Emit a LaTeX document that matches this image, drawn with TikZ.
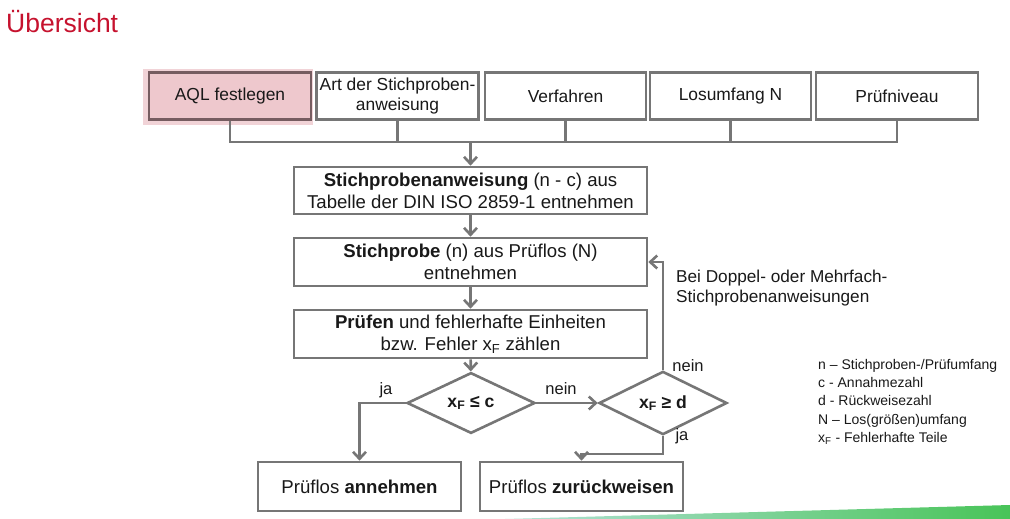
\documentclass[tikz,border=0pt]{standalone}
\usepackage{fontspec}
\setmainfont{Liberation Sans}
\usetikzlibrary{arrows.meta,shapes.geometric}

\begin{document}
\begin{tikzpicture}[x=1pt,y=-1pt,>={Straight Barb[length=7pt,width=13pt]},
  box/.style={draw=linegray,line width=2.6pt,fill=white,text=textdark,align=center,
    minimum height=47,inner sep=2pt,font=\fontsize{17.4}{20}\selectfont},
  bigbox/.style={box,minimum height=48,font=\fontsize{18.6}{22}\selectfont},
  decision/.style={draw=linegray,line width=2.6pt,diamond,inner sep=0pt,fill=white,
    minimum width=128,minimum height=48,text=textdark,font=\fontsize{17.6}{20}\selectfont\bfseries},
  link/.style={draw=linegray,line width=2.6pt},
  lbl/.style={text=textdark,font=\fontsize{16.5}{20}\selectfont,inner sep=0pt}]
\definecolor{linegray}{RGB}{118,118,118}
\definecolor{textdark}{RGB}{25,25,25}
\definecolor{titlered}{RGB}{198,18,46}
\definecolor{aqlfill}{RGB}{238,200,205}
\definecolor{aqlline}{RGB}{118,92,96}
\definecolor{stripteal}{RGB}{38,168,140}
\definecolor{stripgreen}{RGB}{72,196,88}

\useasboundingbox (0,0) rectangle (1010,519);

% title
\node[anchor=base west,inner sep=0pt,text=titlered,font=\fontsize{26.5}{30}\selectfont]
  (title) at (6,33) {Übersicht};

% input row
\fill[aqlfill!80!white] (143,69) rectangle (313,125);
\node[box,fill=aqlfill,draw=aqlline,minimum width=162] (aql) at (230,96) {AQL festlegen};
\node[box,minimum width=162] (art) at (397.5,96) {Art der Stichproben-\\anweisung};
\node[box,minimum width=161] (verf) at (565.5,96) {Verfahren};
\node[box,minimum width=161] (losum) at (730.5,96) {Losumfang N};
\node[box,minimum width=162] (niveau) at (897,96) {Prüfniveau};
\coordinate (bus) at (470.5,142);

% main column
\node[bigbox,minimum width=353,minimum height=47] (plan) at (470.5,190.5)
  {\textbf{Stichprobenanweisung} (n - c) aus\\Tabelle der DIN ISO 2859-1 entnehmen};
\node[bigbox,minimum width=353] (sample) at (470.5,262)
  {\textbf{Stichprobe} (n) aus Prüflos (N)\\entnehmen};
\node[bigbox,minimum width=353] (test) at (470.5,334)
  {\textbf{Prüfen} und fehlerhafte Einheiten\\bzw. Fehler x\textsubscript{F} zählen};
\node[decision] (dc) at (471,403) {\raisebox{-2pt}{x\textsubscript{F} ≤ c}};
\node[decision] (dd) at (663,403) {\raisebox{-2pt}{x\textsubscript{F} ≥ d}};
\node[bigbox,minimum width=203,minimum height=49] (accept) at (359.5,486.5) {Prüflos \textbf{annehmen}};
\node[bigbox,minimum width=203,minimum height=49] (reject) at (581.5,486.5) {Prüflos \textbf{zurückweisen}};

% connectors
\draw[link] (aql.south) -- (aql.south |- bus) -- (niveau.south |- bus) -- (niveau.south);
\foreach \n in {art,verf,losum}
  \draw[link] (\n.south) -- (\n.south |- bus);
\draw[link,->] (bus) -- (plan.north);
\draw[link,->] (plan) -- (sample);
\draw[link,->] (sample) -- (test);
\draw[link,->] (test) -- (dc);
\draw[link,->] (dc.west) -| (accept.north);
\draw[link,->] (dc.east) -- (dd.west);
\draw[link,->] (dd.south) -- ++(0,18) -| (reject.north);
\draw[link,->] (dd.north) |- (sample.east);

% branch labels
\node[lbl] (jaleft) at (386,390) {ja};
\node[lbl] (neinmid) at (561,389) {nein};
\node[lbl] (neinup) at (688,366) {nein};
\node[lbl] (jadown) at (682,436) {ja};
\node[lbl,anchor=west,align=left,font=\fontsize{17.2}{20.5}\selectfont] (loop) at (676,288)
  {Bei Doppel- oder Mehrfach-\\Stichprobenanweisungen};

% legend
\node[anchor=north west,align=left,inner sep=0pt,text=textdark,
  font=\fontsize{14}{18.3}\selectfont] (legend) at (818,359)
  {n – Stichproben-/Prüfumfang\\c - Annahmezahl\\d - Rückweisezahl\\
   N – Los(größen)umfang\\x\textsubscript{F} - Fehlerhafte Teile};

% footer strip
\shade[left color=stripteal!35!white,middle color=stripteal,right color=stripgreen]
  (505,519) -- (1010,505) -- (1010,519) -- cycle;
\end{tikzpicture}
\end{document}
